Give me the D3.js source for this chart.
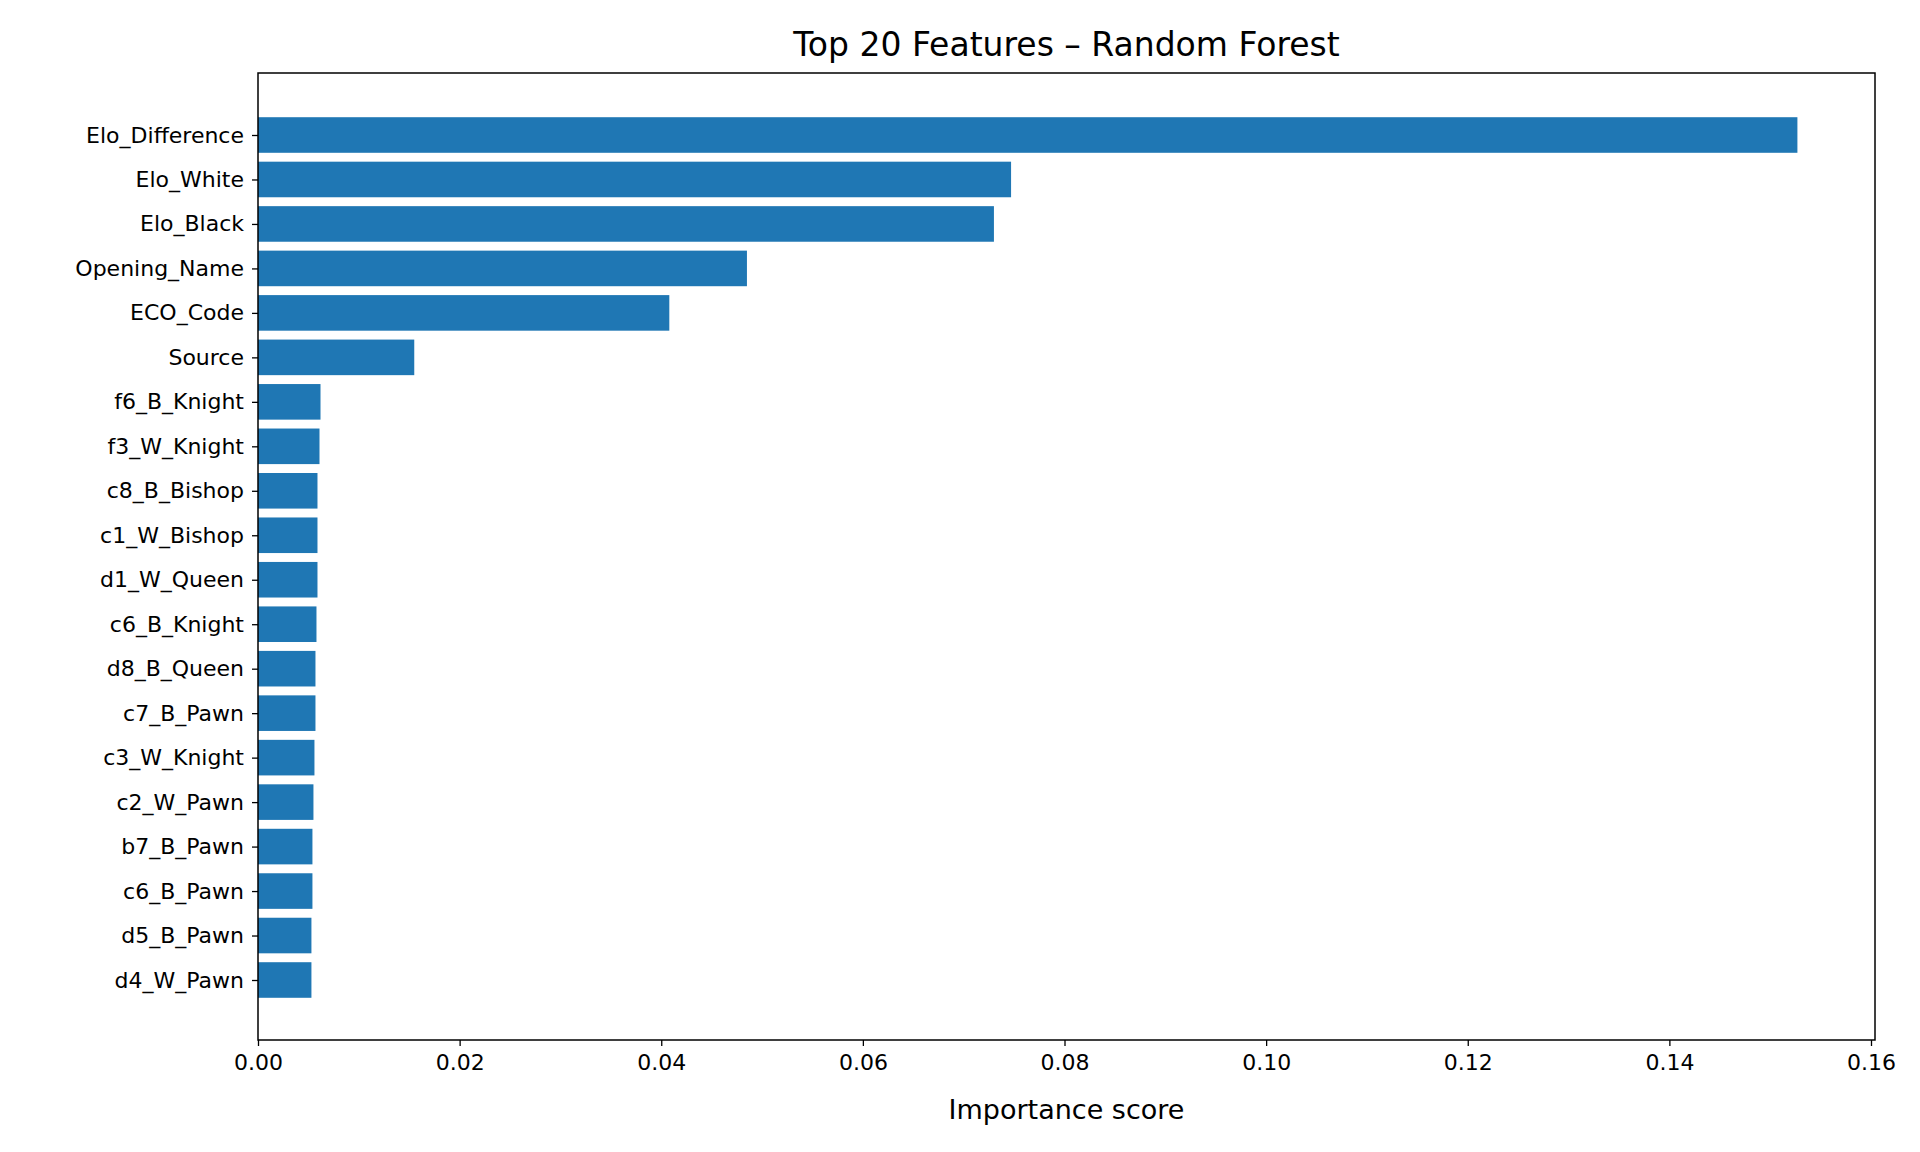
<!DOCTYPE html>
<html><head><meta charset="utf-8">
<script src="https://cdn.jsdelivr.net/npm/d3@7/dist/d3.min.js"></script>
<style>body{margin:0;background:#fff}text{font-family:"DejaVu Sans",sans-serif;fill:#000}</style>
</head><body><svg id="c" width="1920" height="1152"></svg>
<script>
const features = ["Elo_Difference","Elo_White","Elo_Black","Opening_Name","ECO_Code","Source","f6_B_Knight","f3_W_Knight","c8_B_Bishop","c1_W_Bishop","d1_W_Queen","c6_B_Knight","d8_B_Queen","c7_B_Pawn","c3_W_Knight","c2_W_Pawn","b7_B_Pawn","c6_B_Pawn","d5_B_Pawn","d4_W_Pawn"];
const importance = [0.1527,0.0747,0.0730,0.0485,0.0408,0.0155,0.0062,0.0061,0.0059,0.0059,0.0059,0.0058,0.0057,0.0057,0.0056,0.0055,0.0054,0.0054,0.0053,0.0053];
const xTicks = [0,0.02,0.04,0.06,0.08,0.10,0.12,0.14,0.16];

const L=258,R=1875,T=73,B=1040;
const svg=d3.select("#c");
const x=d3.scaleLinear().domain([0,0.16]).range([L,1871]);
const step=(980-135)/19;
const y=d3.scaleLinear().domain([0,19]).range([135,980]);
const bh=step*0.8;

svg.selectAll("rect.bar").data(importance).join("rect").attr("class","bar")
 .attr("x",x(0)).attr("y",(d,i)=>y(i)-bh/2).attr("width",d=>x(d)-x(0)).attr("height",bh)
 .attr("fill","#1f77b4");

svg.append("rect").attr("x",L).attr("y",T).attr("width",R-L).attr("height",B-T)
 .attr("fill","none").attr("stroke","#000").attr("stroke-width",1.5);

const xa=svg.append("g").attr("transform",`translate(0,${B})`)
 .call(d3.axisBottom(x).tickValues(xTicks).tickFormat(d3.format(".2f")).tickSize(6).tickPadding(8));
xa.select(".domain").remove();
xa.selectAll("text").style("font-size","22px");
xa.selectAll("line").attr("stroke-width",1.3);

const ya=svg.append("g").attr("transform",`translate(${L},0)`)
 .call(d3.axisLeft(y).tickValues(d3.range(20)).tickFormat(i=>features[i]).tickSize(6).tickPadding(8));
ya.select(".domain").remove();
ya.selectAll("text").style("font-size","22px");
ya.selectAll("line").attr("stroke-width",1.3);

svg.append("text").attr("x",(L+R)/2).attr("y",44).attr("dy","0.35em").attr("text-anchor","middle")
 .style("font-size","33px").text("Top 20 Features – Random Forest");
svg.append("text").attr("x",(L+R)/2).attr("y",1110).attr("dy","0.35em").attr("text-anchor","middle")
 .style("font-size","27px").text("Importance score");
</script></body></html>
